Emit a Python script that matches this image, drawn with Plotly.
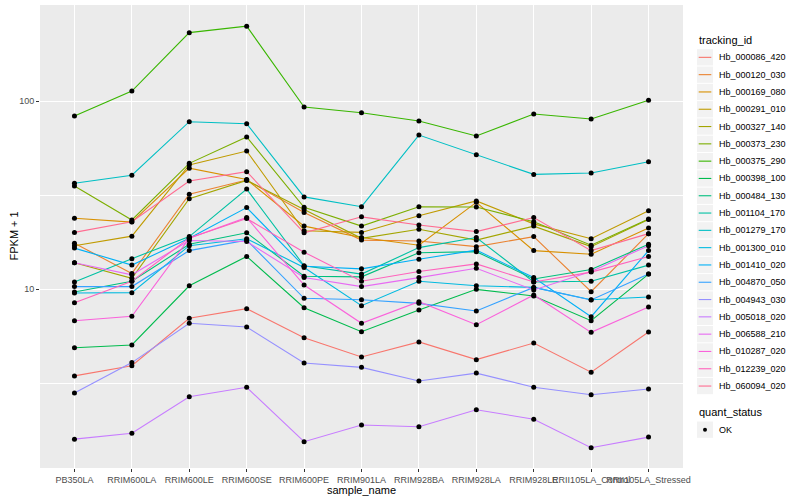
import plotly.graph_objects as go

samples = ["PB350LA", "RRIM600LA", "RRIM600LE", "RRIM600SE", "RRIM600PE", "RRIM901LA",
           "RRIM928BA", "RRIM928LA", "RRIM928LE", "RRII105LA_Control", "RRII105LA_Stressed"]

hb_000086_420 = [3.45, 3.91, 6.99, 7.86, 5.51, 4.35, 5.23, 4.21, 5.16, 3.61, 5.91]
hb_000120_030 = [17.5, 12.1, 31.9, 38.0, 25.5, 18.2, 18.0, 16.8, 19.0, 9.67, 19.7]
hb_000169_080 = [23.8, 22.7, 43.9, 38.2, 21.6, 18.8, 17.1, 28.9, 16.0, 15.3, 21.1]
hb_000291_010 = [17.0, 19.1, 45.7, 54.2, 20.4, 20.0, 24.5, 29.4, 22.2, 18.5, 26.1]
hb_000327_140 = [13.8, 11.4, 30.2, 37.8, 26.5, 18.6, 20.8, 18.2, 21.6, 16.8, 23.4]
hb_000373_230 = [35.3, 23.3, 46.6, 64.4, 27.2, 21.6, 27.4, 27.3, 22.8, 17.1, 23.6]
hb_000375_290 = [83.2, 113, 231, 250, 92.9, 86.6, 78.3, 65.1, 85.3, 80.2, 101]
hb_000398_100 = [4.87, 5.04, 10.4, 14.9, 7.95, 5.93, 7.73, 9.96, 9.18, 6.78, 12.0]
hb_000484_130 = [9.64, 11.0, 17.3, 19.9, 11.7, 11.6, 15.6, 15.8, 11.3, 12.7, 17.3]
hb_001104_170 = [10.9, 14.5, 19.0, 34.0, 13.3, 12.0, 16.6, 18.8, 10.9, 11.0, 13.4]
hb_001279_170 = [36.5, 40.3, 77.6, 75.7, 30.9, 27.4, 65.9, 51.8, 40.7, 41.4, 47.5]
hb_001300_010 = [9.52, 9.56, 17.0, 18.5, 13.0, 8.15, 11.0, 10.4, 10.2, 8.77, 9.07]
hb_001410_020 = [16.5, 13.4, 18.6, 27.1, 13.2, 12.8, 14.4, 16.1, 11.5, 7.12, 16.0]
hb_004870_050 = [10.3, 10.3, 16.0, 18.2, 8.92, 8.77, 8.39, 7.64, 10.2, 8.74, 12.0]
hb_004943_030 = [2.80, 4.06, 6.57, 6.28, 4.04, 3.83, 3.24, 3.57, 3.00, 2.74, 2.94]
hb_005018_020 = [1.59, 1.71, 2.67, 3.00, 1.54, 1.89, 1.85, 2.28, 2.03, 1.43, 1.63]
hb_006588_210 = [13.8, 11.9, 18.1, 17.9, 11.5, 10.3, 11.5, 12.9, 9.88, 12.4, 17.0]
hb_010287_020 = [6.78, 7.16, 18.6, 24.0, 10.5, 6.57, 8.56, 6.46, 9.29, 5.88, 8.02]
hb_012239_020 = [8.46, 11.0, 18.7, 23.7, 15.7, 11.0, 12.4, 13.6, 10.9, 12.3, 14.9]
hb_060094_020 = [20.0, 22.8, 37.5, 42.1, 19.9, 24.2, 21.9, 20.2, 24.0, 16.0, 19.7]

tracking_ids = ["Hb_000086_420", "Hb_000120_030", "Hb_000169_080", "Hb_000291_010",
                "Hb_000327_140", "Hb_000373_230", "Hb_000375_290", "Hb_000398_100",
                "Hb_000484_130", "Hb_001104_170", "Hb_001279_170", "Hb_001300_010",
                "Hb_001410_020", "Hb_004870_050", "Hb_004943_030", "Hb_005018_020",
                "Hb_006588_210", "Hb_010287_020", "Hb_012239_020", "Hb_060094_020"]
series_values = [hb_000086_420, hb_000120_030, hb_000169_080, hb_000291_010,
                 hb_000327_140, hb_000373_230, hb_000375_290, hb_000398_100,
                 hb_000484_130, hb_001104_170, hb_001279_170, hb_001300_010,
                 hb_001410_020, hb_004870_050, hb_004943_030, hb_005018_020,
                 hb_006588_210, hb_010287_020, hb_012239_020, hb_060094_020]
colors = ["#F8766D", "#EA8331", "#D89000", "#C09B00", "#A3A500", "#7CAE00", "#39B600",
          "#00BB4E", "#00BF7D", "#00C1A3", "#00BFC4", "#00BAE0", "#00B0F6", "#35A2FF",
          "#9590FF", "#C77CFF", "#E76BF3", "#FA62DB", "#FF62BC", "#FF6C91"]
quant_status = ["OK"]

FONT = "Liberation Sans, Arial, sans-serif"
W, H = 800, 500
PL, PR, PT, PB = 40, 683, 5, 468   # panel edges in pixels


def px(x):
    return (x - PL) / (PR - PL)


def py(y):
    return (PB - y) / (PB - PT)


fig = go.Figure()
for name, vals, col in zip(tracking_ids, series_values, colors):
    fig.add_trace(go.Scatter(x=samples, y=vals, mode="lines", name=name,
                             line=dict(color=col, width=1.1), showlegend=False))

all_x = [s for vals in series_values for s in samples]
all_y = [v for vals in series_values for v in vals]
fig.add_trace(go.Scatter(x=all_x, y=all_y, mode="markers", name=quant_status[0],
                         marker=dict(color="black", size=5, symbol="circle"),
                         showlegend=False))

# ---- ggplot-style legend built from shapes + annotations ----
shapes = []
annots = []
KX0, KX1 = 697, 713
STEP = 17.3
TOP = 48.7
annots.append(dict(text="tracking_id", x=px(KX0), y=py(40.5), xref="paper", yref="paper",
                   xanchor="left", yanchor="middle", showarrow=False,
                   font=dict(size=11, color="black", family=FONT)))
for i, (name, col) in enumerate(zip(tracking_ids, colors)):
    y0 = TOP + i * STEP
    yc = y0 + STEP / 2
    shapes.append(dict(type="rect", xref="paper", yref="paper",
                       x0=px(KX0), x1=px(KX1), y0=py(y0 + 0.5), y1=py(y0 + STEP - 0.5),
                       fillcolor="#F2F2F2", line=dict(width=0), layer="above"))
    shapes.append(dict(type="line", xref="paper", yref="paper",
                       x0=px(KX0 + 1.7), x1=px(KX1 - 1.7), y0=py(yc), y1=py(yc),
                       line=dict(color=col, width=1.1), layer="above"))
    annots.append(dict(text=name, x=px(716.5), y=py(yc), xref="paper", yref="paper",
                       xanchor="left", yanchor="middle", showarrow=False,
                       font=dict(size=9, color="black", family=FONT)))

annots.append(dict(text="quant_status", x=px(KX0), y=py(412), xref="paper", yref="paper",
                   xanchor="left", yanchor="middle", showarrow=False,
                   font=dict(size=11, color="black", family=FONT)))
oy0 = 421
oyc = oy0 + STEP / 2
shapes.append(dict(type="rect", xref="paper", yref="paper",
                   x0=px(KX0), x1=px(KX1), y0=py(oy0 + 0.5), y1=py(oy0 + STEP - 0.5),
                   fillcolor="#F2F2F2", line=dict(width=0), layer="above"))
shapes.append(dict(type="circle", xref="paper", yref="paper",
                   x0=px(703), x1=px(707), y0=py(oyc - 2), y1=py(oyc + 2),
                   fillcolor="black", line=dict(width=0), layer="above"))
annots.append(dict(text=quant_status[0], x=px(716.5), y=py(oyc), xref="paper", yref="paper",
                   xanchor="left", yanchor="middle", showarrow=False,
                   font=dict(size=9, color="black", family=FONT)))

# axis titles
annots.append(dict(text="sample_name", x=0.5, y=py(490), xref="paper", yref="paper",
                   xanchor="center", yanchor="middle", showarrow=False,
                   font=dict(size=11, color="black", family=FONT)))
annots.append(dict(text="FPKM + 1", x=px(13), y=0.5, xref="paper", yref="paper",
                   xanchor="center", yanchor="middle", showarrow=False, textangle=-90,
                   font=dict(size=11, color="black", family=FONT)))

fig.update_layout(
    width=W, height=H,
    margin=dict(l=PL, r=W - PR, t=PT, b=H - PB, autoexpand=False),
    paper_bgcolor="white", plot_bgcolor="#EBEBEB",
    font=dict(family=FONT, size=9, color="#4D4D4D"),
    showlegend=False,
    shapes=shapes, annotations=annots,
)
fig.update_xaxes(type="category", range=[-0.6, 10.6], tickangle=0,
                 showgrid=True, gridcolor="white", gridwidth=1.1,
                 ticks="outside", ticklen=3, tickcolor="#333333", tickwidth=1,
                 tickfont=dict(size=9, color="#4D4D4D"),
                 zeroline=False, showline=False, automargin=False)
fig.update_yaxes(type="log", range=[0.0479, 2.5106],
                 tickvals=[10, 100], ticktext=["10", "100"],
                 showgrid=True, gridcolor="white", gridwidth=1.1,
                 minor=dict(tickvals=[3.1623, 31.623], showgrid=True, gridcolor="white",
                            gridwidth=0.5, ticks=""),
                 ticks="outside", ticklen=3, tickcolor="#333333", tickwidth=1,
                 tickfont=dict(size=9, color="#4D4D4D"),
                 zeroline=False, showline=False, automargin=False)

fig.write_html("out.html", config={"displayModeBar": False},
               post_script="document.body.style.margin='0px';")
